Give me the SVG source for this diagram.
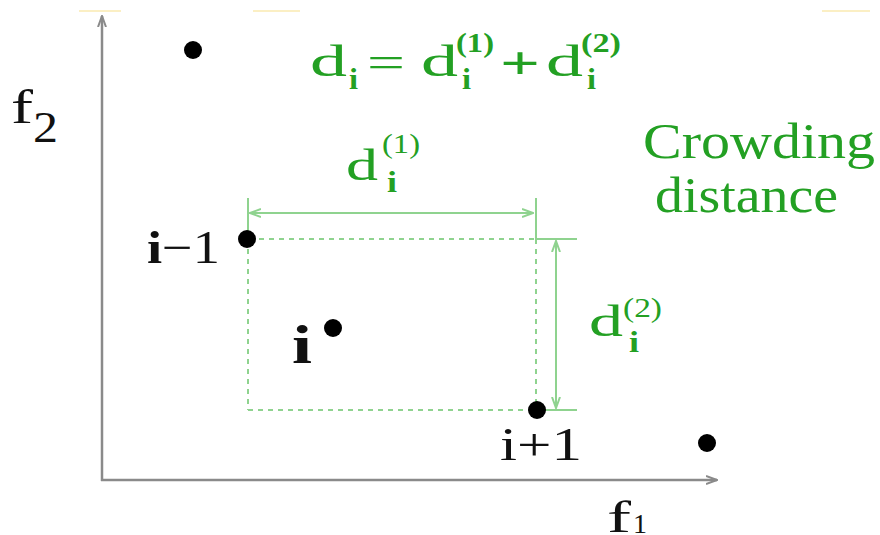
<svg xmlns="http://www.w3.org/2000/svg" width="880" height="535" viewBox="0 0 880 535">
<style>
.ax{stroke:#8a8a8a;stroke-width:2.5;fill:none}
.gl{stroke:#8fd38f;stroke-width:2;fill:none}
.gd{stroke:#8fd38f;stroke-width:2;fill:none;stroke-dasharray:5 5}
.gt{font-family:"Liberation Serif",serif;fill:#23a023}
.bt{font-family:"Liberation Serif",serif;fill:#111}
.pt{fill:#000}
</style>
<defs>
<marker id="ah" viewBox="0 0 12 10" refX="11" refY="5" markerWidth="12" markerHeight="10" markerUnits="userSpaceOnUse" orient="auto-start-reverse">
<path d="M0,1 L11,5 L0,9" fill="none" stroke="#8fd38f" stroke-width="2"/>
</marker>
<marker id="axh" viewBox="0 0 12 10" refX="11" refY="5" markerWidth="12" markerHeight="10" markerUnits="userSpaceOnUse" orient="auto">
<path d="M0,1 L11,5 L0,9" fill="none" stroke="#8a8a8a" stroke-width="2"/>
</marker>
</defs>
<rect width="880" height="535" fill="#fff"/>
<g id="artifacts" stroke="#fbefc4" stroke-width="2">
<line x1="79" y1="11" x2="121" y2="11"/>
<line x1="253" y1="11" x2="300" y2="11"/>
<line x1="822" y1="11" x2="870" y2="11"/>
</g>
<g id="connectors">
<line class="ax" x1="102" y1="481" x2="102" y2="16" marker-end="url(#axh)"/>
<line class="ax" x1="101" y1="480" x2="717" y2="480" marker-end="url(#axh)"/>
<line class="gd" x1="249" y1="239" x2="536" y2="239"/>
<line class="gd" x1="248" y1="239" x2="248" y2="410"/>
<line class="gd" x1="248" y1="410" x2="536" y2="410"/>
<line class="gd" x1="536" y1="239" x2="536" y2="410" stroke-dasharray="3 5"/>
<line class="gl" x1="248" y1="198" x2="248" y2="239"/>
<line class="gl" x1="536" y1="198" x2="536" y2="239"/>
<line class="gl" x1="536" y1="239" x2="577" y2="239"/>
<line class="gl" x1="536" y1="410" x2="577" y2="410"/>
<line class="gl" x1="250" y1="213" x2="533" y2="213" marker-start="url(#ah)" marker-end="url(#ah)"/>
<line class="gl" x1="556" y1="241" x2="556" y2="408" marker-start="url(#ah)" marker-end="url(#ah)"/>
</g>
<g id="p1"><circle class="pt" cx="193" cy="50" r="9"/></g>
<g id="p-im1"><circle class="pt" cx="247" cy="239" r="9"/>
<text class="bt" x="147" y="263" font-size="46" textLength="73" lengthAdjust="spacingAndGlyphs"><tspan font-weight="bold">i</tspan>−1</text></g>
<g id="p-i"><circle class="pt" cx="333" cy="328" r="9"/>
<text class="bt" x="292" y="363" font-size="54" font-weight="bold" textLength="20" lengthAdjust="spacingAndGlyphs">i</text></g>
<g id="p-ip1"><circle class="pt" cx="537" cy="410" r="9"/>
<text class="bt" x="500" y="460" font-size="46" textLength="82" lengthAdjust="spacingAndGlyphs">i+1</text></g>
<g id="p5"><circle class="pt" cx="707" cy="443" r="9"/></g>
<g id="axis-labels">
<text class="bt" x="11" y="123" font-size="48" textLength="22" lengthAdjust="spacingAndGlyphs">f</text>
<text class="bt" x="33" y="142" font-size="44" textLength="25" lengthAdjust="spacingAndGlyphs">2</text>
<text class="bt" x="607" y="532" font-size="44" textLength="24" lengthAdjust="spacingAndGlyphs">f</text>
<text class="bt" x="633" y="533" font-size="28" textLength="14" lengthAdjust="spacingAndGlyphs">1</text>
</g>
<g id="equation" class="gt">
<text class="gt" x="310" y="76" font-size="44" textLength="37" lengthAdjust="spacingAndGlyphs">d</text>
<text class="gt" x="349" y="89" font-size="30" font-weight="bold" textLength="9" lengthAdjust="spacingAndGlyphs">i</text>
<text class="gt" x="367" y="77" font-size="44" textLength="38" lengthAdjust="spacingAndGlyphs">=</text>
<text class="gt" x="421" y="76" font-size="44" textLength="37" lengthAdjust="spacingAndGlyphs">d</text>
<text class="gt" x="456" y="52" font-size="28" font-weight="bold" textLength="38" lengthAdjust="spacingAndGlyphs">(1)</text>
<text class="gt" x="462" y="89" font-size="30" font-weight="bold" textLength="9" lengthAdjust="spacingAndGlyphs">i</text>
<text class="gt" x="500" y="79" font-size="46" font-weight="bold" textLength="40" lengthAdjust="spacingAndGlyphs">+</text>
<text class="gt" x="546" y="76" font-size="44" textLength="37" lengthAdjust="spacingAndGlyphs">d</text>
<text class="gt" x="581" y="52" font-size="28" font-weight="bold" textLength="40" lengthAdjust="spacingAndGlyphs">(2)</text>
<text class="gt" x="587" y="89" font-size="30" font-weight="bold" textLength="9" lengthAdjust="spacingAndGlyphs">i</text>
</g>
<g id="label-d1">
<text class="gt" x="346" y="180" font-size="44" textLength="32" lengthAdjust="spacingAndGlyphs">d</text>
<text class="gt" x="382" y="153" font-size="28" textLength="38" lengthAdjust="spacingAndGlyphs">(1)</text>
<text class="gt" x="387" y="192" font-size="30" font-weight="bold" textLength="10" lengthAdjust="spacingAndGlyphs">i</text>
</g>
<g id="label-d2">
<text class="gt" x="589" y="336" font-size="44" textLength="34" lengthAdjust="spacingAndGlyphs">d</text>
<text class="gt" x="623" y="317" font-size="28" textLength="39" lengthAdjust="spacingAndGlyphs">(2)</text>
<text class="gt" x="629" y="352" font-size="30" font-weight="bold" textLength="10" lengthAdjust="spacingAndGlyphs">i</text>
</g>
<g id="title">
<text class="gt" x="643" y="158" font-size="50" textLength="232" lengthAdjust="spacingAndGlyphs">Crowding</text>
<text class="gt" x="655" y="212" font-size="50" textLength="183" lengthAdjust="spacingAndGlyphs">distance</text>
</g>
</svg>
